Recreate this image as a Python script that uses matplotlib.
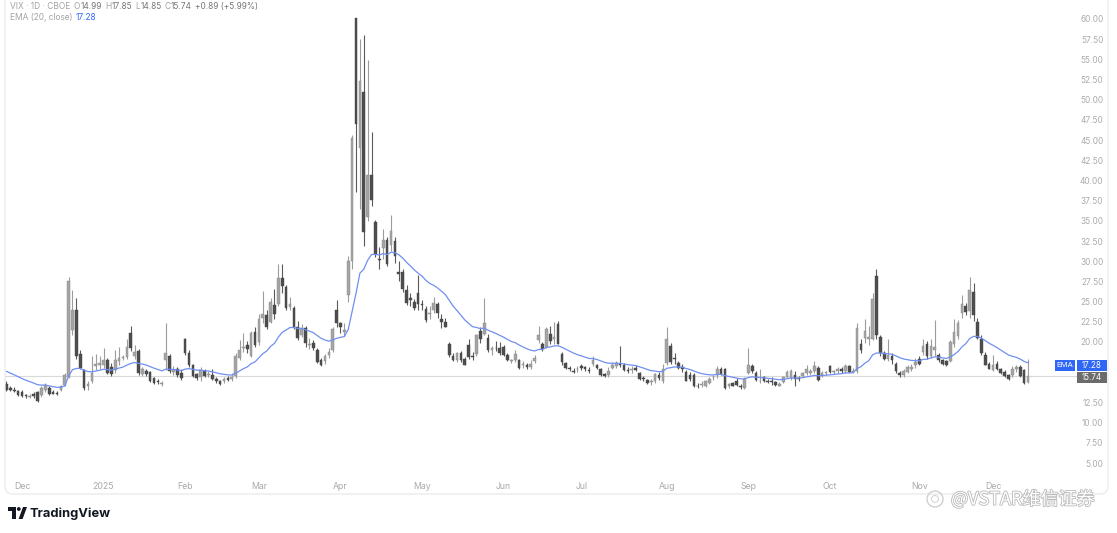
import numpy as np
import pandas as pd
import matplotlib
matplotlib.use("Agg")
import matplotlib.pyplot as plt
from matplotlib.patches import FancyBboxPatch, Rectangle, Polygon, Circle
import matplotlib.patheffects as pe

plt.rcParams['font.family'] = ['Inter', 'DejaVu Sans']

# ---------------- data: daily VIX candles (open, high, low, close) ----------------
nov_2024 = [(14.8, 15.1, 13.9, 14.0), (14.3, 14.6, 13.9, 14.1), (14.1, 14.4, 13.8, 13.9),
            (13.95, 14.1, 13.3, 13.45)]
dec_2024 = [(13.8, 14.0, 13.2, 13.3), (13.4, 13.6, 13.1, 13.3), (13.2, 13.5, 13.0, 13.35),
            (13.6, 13.8, 13.1, 13.3), (13.8, 13.9, 12.5, 12.7), (13.4, 14.5, 13.2, 14.25),
            (14.0, 14.9, 13.8, 14.7), (14.3, 14.5, 13.4, 13.55), (13.8, 14.0, 13.5, 13.6),
            (13.7, 13.9, 13.4, 13.55), (14.1, 14.7, 13.9, 14.55), (14.7, 16.1, 14.5, 15.9),
            (15.7, 28.1, 15.5, 27.55), (21.5, 26.4, 20.8, 24.0), (24.0, 25.5, 17.9, 18.2),
            (18.5, 19.0, 16.6, 16.8), (16.5, 16.6, 14.1, 14.3), (14.6, 15.2, 14.1, 14.75),
            (15.1, 18.2, 14.9, 16.1), (17.0, 18.5, 16.5, 17.3), (17.2, 18.3, 16.6, 17.35)]
jan_2025 = [(17.2, 19.3, 16.8, 17.8), (17.8, 18.0, 16.0, 16.1), (16.9, 17.4, 15.8, 16.0),
            (16.5, 19.0, 16.2, 17.8), (17.6, 19.4, 17.2, 17.95), (18.0, 18.4, 17.8, 18.1),
            (18.1, 20.3, 17.9, 19.4), (21.1, 22.0, 18.9, 19.2), (18.3, 19.6, 17.9, 18.7),
            (18.9, 19.1, 15.9, 16.1), (16.0, 16.9, 15.8, 16.6), (16.4, 16.6, 15.8, 15.97),
            (16.3, 16.4, 15.0, 15.1), (15.5, 15.6, 14.8, 14.9), (15.2, 15.4, 14.8, 15.0),
            (14.8, 15.1, 14.6, 14.85), (17.8, 22.4, 16.5, 18.6), (18.2, 18.5, 16.2, 16.4),
            (16.3, 17.0, 15.9, 16.5), (16.6, 16.9, 15.7, 15.9), (16.1, 16.6, 15.3, 15.5)]
feb_2025 = [(20.3, 20.5, 18.4, 18.6), (18.6, 19.0, 16.9, 17.2), (17.1, 17.3, 15.6, 15.8),
            (16.0, 16.1, 15.3, 15.5), (15.7, 16.9, 15.1, 16.5), (16.4, 16.6, 15.6, 15.8),
            (15.9, 16.4, 15.6, 16.0), (15.9, 16.6, 15.3, 15.4), (15.4, 15.6, 14.9, 15.1),
            (15.1, 15.3, 14.7, 14.8), (15.2, 15.6, 14.9, 15.35), (15.5, 15.8, 15.1, 15.3),
            (15.4, 16.1, 15.2, 15.7), (15.8, 18.6, 15.5, 18.2), (18.0, 20.2, 17.8, 19.0),
            (19.2, 21.1, 18.7, 19.4), (19.6, 20.1, 18.6, 19.1), (18.3, 21.4, 18.1, 21.1),
            (21.2, 21.9, 19.4, 19.6)]
mar_2025 = [(20.0, 23.5, 19.6, 22.8), (23.0, 26.3, 22.3, 23.5), (23.3, 24.0, 21.6, 21.9),
            (22.5, 25.5, 22.3, 24.9), (24.6, 26.6, 22.8, 23.4), (24.7, 29.6, 24.5, 27.9),
            (27.9, 29.6, 26.0, 26.9), (26.8, 27.0, 24.0, 24.2), (24.3, 25.6, 23.9, 24.7),
            (24.2, 24.4, 21.6, 21.8), (21.9, 22.6, 20.2, 20.5), (20.9, 22.2, 20.6, 21.7),
            (21.7, 22.0, 19.4, 19.9), (19.6, 20.5, 19.1, 19.8), (19.9, 20.2, 19.0, 19.3),
            (19.0, 19.2, 17.4, 17.5), (17.8, 18.0, 17.0, 17.15), (17.6, 18.5, 17.3, 18.3),
            (18.4, 19.3, 18.0, 18.7), (19.0, 21.9, 18.8, 21.65), (24.0, 25.2, 21.8, 22.3)]
apr_2025 = [(22.3, 22.5, 21.1, 21.8), (21.2, 22.4, 20.7, 21.5), (25.8, 30.6, 25.0, 30.0),
            (30.0, 45.6, 29.0, 45.3), (60.1, 60.13, 38.6, 47.0), (44.0, 57.5, 36.5, 52.3),
            (51.0, 58.0, 31.9, 33.6), (35.5, 54.9, 35.0, 40.7), (40.7, 46.0, 36.8, 37.6),
            (34.9, 35.1, 30.5, 30.9), (30.3, 31.8, 29.0, 30.1), (31.6, 34.0, 30.3, 32.6),
            (32.6, 33.0, 29.4, 29.65), (32.0, 35.7, 31.3, 33.8), (32.5, 33.0, 29.8, 30.6),
            (28.6, 30.0, 27.5, 28.45), (28.7, 29.0, 26.2, 26.5), (26.4, 27.0, 24.6, 24.8),
            (25.4, 26.0, 24.5, 25.15), (25.0, 25.3, 23.9, 24.2), (26.0, 28.3, 24.0, 24.7)]
may_2025 = [(24.7, 25.2, 24.0, 24.6), (24.1, 24.5, 22.5, 22.7), (23.5, 24.5, 22.9, 23.6),
            (24.0, 25.6, 23.6, 24.8), (24.7, 25.0, 23.0, 23.55), (22.8, 23.5, 21.7, 22.5),
            (22.5, 23.0, 21.8, 21.9), (19.8, 20.0, 18.1, 18.4), (18.3, 18.6, 17.6, 17.7),
            (17.7, 18.8, 17.5, 18.6), (18.6, 18.9, 17.5, 17.8), (17.9, 18.1, 17.1, 17.2),
            (19.6, 20.3, 17.9, 18.1), (18.3, 18.7, 17.8, 18.1), (18.5, 21.0, 18.2, 20.9),
            (21.4, 21.9, 19.9, 20.3), (21.0, 25.4, 20.9, 22.3), (20.5, 21.0, 18.8, 18.96),
            (19.0, 19.5, 18.4, 19.3), (19.3, 20.1, 18.9, 19.2), (19.3, 20.0, 18.4, 18.6)]
jun_2025 = [(19.4, 19.6, 18.2, 18.4), (18.4, 18.6, 17.6, 17.7), (17.6, 17.9, 17.4, 17.6),
            (17.7, 19.0, 17.5, 18.5), (17.8, 17.9, 16.7, 16.8), (17.2, 17.6, 16.8, 17.2),
            (17.2, 17.4, 16.7, 16.95), (16.9, 17.8, 16.7, 17.3), (17.6, 18.4, 17.4, 18.0),
            (20.2, 22.0, 19.9, 20.8), (19.8, 20.0, 18.9, 19.1), (19.4, 21.8, 19.2, 21.6),
            (21.0, 22.0, 19.8, 20.1), (20.3, 22.5, 19.8, 20.6), (22.2, 22.6, 19.7, 19.8),
            (18.5, 18.7, 17.2, 17.5), (17.4, 17.5, 16.7, 16.8), (16.8, 17.0, 16.4, 16.6),
            (16.4, 16.8, 16.1, 16.3), (16.6, 17.0, 16.3, 16.7)]
jul_2025 = [(17.0, 17.3, 16.5, 16.8), (16.9, 17.0, 16.4, 16.6), (16.5, 16.9, 16.2, 16.4),
            (17.3, 18.2, 17.0, 17.8), (17.1, 17.3, 16.6, 16.8), (16.7, 16.8, 15.8, 15.9),
            (16.0, 16.2, 15.6, 15.8), (15.9, 16.9, 15.7, 16.4), (16.8, 17.5, 16.6, 17.2),
            (17.0, 17.6, 16.8, 17.4), (17.3, 19.5, 16.9, 17.2), (17.2, 17.4, 16.4, 16.5),
            (16.5, 16.9, 16.2, 16.4), (16.5, 17.0, 16.2, 16.65), (16.8, 17.1, 16.4, 16.5),
            (16.2, 16.3, 15.3, 15.4), (15.5, 15.8, 15.1, 15.4), (15.3, 15.4, 14.8, 14.9),
            (15.0, 15.4, 14.7, 15.0), (15.1, 16.2, 14.9, 16.0), (15.9, 16.3, 15.3, 15.5),
            (15.1, 17.3, 14.9, 16.7)]
aug_2025 = [(17.4, 21.9, 17.2, 20.4), (19.5, 19.9, 17.3, 17.5), (18.0, 18.6, 17.3, 17.85),
            (17.4, 17.6, 16.6, 16.8), (16.9, 17.3, 16.3, 16.6), (16.3, 16.5, 15.1, 15.15),
            (15.9, 16.3, 15.2, 15.4), (15.9, 16.1, 14.4, 14.6), (14.6, 14.9, 14.3, 14.5),
            (14.7, 15.2, 14.4, 14.8), (14.5, 15.3, 14.4, 15.1), (14.9, 15.6, 14.8, 15.4),
            (15.6, 15.9, 15.3, 15.7), (15.9, 17.0, 15.5, 16.7), (16.7, 16.9, 15.9, 16.0),
            (16.7, 16.8, 14.2, 14.3), (14.6, 14.9, 14.3, 14.8), (14.9, 15.0, 14.5, 14.6),
            (15.2, 15.5, 14.5, 14.7), (14.6, 14.8, 14.2, 14.4), (14.3, 15.6, 14.2, 15.4)]
sep_2025 = [(16.2, 19.2, 16.0, 17.2), (17.0, 17.3, 16.2, 16.4), (16.2, 16.4, 15.2, 15.3),
            (15.1, 16.6, 14.9, 15.2), (15.6, 15.8, 15.0, 15.1), (15.2, 15.4, 14.9, 15.0),
            (15.1, 15.6, 14.7, 15.0), (15.0, 15.2, 14.6, 14.7), (14.6, 15.0, 14.5, 14.8),
            (15.0, 15.8, 14.9, 15.7), (15.7, 16.5, 15.5, 16.3), (15.5, 16.7, 15.3, 16.4),
            (15.9, 16.4, 14.5, 15.4), (15.5, 15.8, 15.2, 15.45), (15.8, 16.3, 15.6, 16.1),
            (16.1, 17.2, 15.9, 16.6), (16.2, 16.6, 15.9, 16.4), (16.4, 17.6, 16.2, 17.0),
            (16.8, 17.0, 15.2, 15.3), (15.9, 16.4, 15.7, 16.1), (16.2, 16.4, 15.9, 16.3)]
oct_2025 = [(17.0, 17.2, 16.2, 16.3), (16.3, 16.5, 16.0, 16.4), (16.4, 16.9, 16.1, 16.65),
            (16.6, 16.9, 16.2, 16.4), (16.4, 17.3, 16.1, 17.0), (17.0, 17.2, 16.2, 16.3),
            (16.3, 16.8, 16.1, 16.4), (16.4, 22.4, 16.2, 21.7), (19.8, 20.3, 18.6, 19.0),
            (20.5, 22.9, 19.9, 21.4), (20.3, 22.0, 19.6, 20.6), (20.4, 26.0, 20.2, 25.3),
            (28.2, 29.0, 20.4, 20.8), (20.6, 20.8, 18.3, 18.6), (18.6, 18.9, 17.7, 17.9),
            (17.9, 20.4, 17.6, 18.4), (18.2, 18.6, 17.3, 17.8), (17.3, 17.5, 16.2, 16.4),
            (16.2, 16.4, 15.6, 15.9), (15.9, 16.6, 15.7, 16.4), (16.3, 17.2, 16.1, 16.9),
            (16.7, 17.3, 16.4, 16.9), (17.1, 18.0, 16.8, 17.5)]
nov_2025 = [(17.9, 18.2, 17.1, 17.3), (18.7, 20.4, 18.4, 19.5), (19.8, 20.1, 17.9, 18.2),
            (18.2, 20.3, 18.0, 19.5), (19.0, 22.7, 18.3, 19.4), (18.4, 18.6, 17.5, 17.7),
            (17.8, 17.9, 17.2, 17.3), (17.6, 17.8, 17.0, 17.2), (17.6, 20.2, 17.5, 20.0),
            (19.7, 22.9, 19.4, 21.2), (20.7, 22.7, 20.4, 22.4), (23.6, 25.8, 23.0, 24.7),
            (24.4, 24.8, 23.3, 23.7), (23.8, 28.1, 23.0, 26.4), (26.2, 27.3, 22.6, 23.3),
            (22.5, 23.0, 20.3, 20.5), (20.4, 20.8, 18.4, 18.6), (18.4, 18.7, 17.1, 17.2),
            (17.3, 17.5, 16.6, 16.7)]
dec_2025 = [(16.5, 18.4, 16.4, 17.2), (17.3, 17.6, 16.5, 16.6), (16.6, 16.8, 16.0, 16.1),
            (16.3, 16.5, 15.7, 15.8), (15.9, 16.0, 15.3, 15.4), (15.9, 17.0, 15.7, 16.7),
            (16.6, 17.2, 16.3, 16.9), (16.9, 17.2, 15.7, 15.8), (16.5, 16.6, 14.8, 14.85),
            (14.99, 17.85, 14.85, 15.74)]

market_holidays = ['2024-11-28', '2024-12-25', '2025-01-01', '2025-01-20', '2025-02-17',
                   '2025-04-18', '2025-05-26', '2025-06-19', '2025-07-04', '2025-09-01',
                   '2025-11-27']
month_labels = ['Dec', '2025', 'Feb', 'Mar', 'Apr', 'May', 'Jun', 'Jul', 'Aug', 'Sep',
                'Oct', 'Nov', 'Dec']
price_ticks = [v for v in np.arange(5.0, 60.01, 2.5) if v not in (15.0, 17.5)]
ema_period = 20
ema_seed = 16.6          # EMA level at the left edge of the window
ema_shown = 17.28        # value printed in the legend / price-scale tag

# ---------------- assemble ----------------
months = [nov_2024, dec_2024, jan_2025, feb_2025, mar_2025, apr_2025, may_2025,
          jun_2025, jul_2025, aug_2025, sep_2025, oct_2025, nov_2025, dec_2025]
bars = np.array([b for m in months for b in m], dtype=float)
o, h, l, c = bars.T
dates = pd.bdate_range('2024-11-25', '2025-12-12')
dates = dates[~dates.isin(pd.to_datetime(market_holidays))]
assert len(dates) == len(bars), (len(dates), len(bars))
n = len(bars)
x = np.arange(n)

alpha = 2.0 / (ema_period + 1)
ema = []
e = ema_seed
for v in c:
    e = alpha * v + (1 - alpha) * e
    ema.append(e)
ema = np.array(ema)

# month tick positions: first trading day of each month
per = dates.to_period('M')
first_idx = [i for i in range(n) if i == 0 or per[i] != per[i - 1]]
first_idx = [i for i in first_idx if dates[i].day <= 5]

# ---------------- figure ----------------
W, H = 1117, 533
fig = plt.figure(figsize=(W / 100, H / 100), dpi=100)
fig.patch.set_facecolor('white')

ax_left, ax_right, ax_top, ax_bot = 5, 1045, 0, 478
ax = fig.add_axes([ax_left / W, (H - ax_bot) / H, (ax_right - ax_left) / W, (ax_bot - ax_top) / H])
ax.set_facecolor('none')
px_per_bar = 3.884
x0_px = 6.46
ax.set_xlim((ax_left - x0_px) / px_per_bar, (ax_right - x0_px) / px_per_bar)
px_per_unit = 8.073
ax.set_ylim(60 - (ax_bot - 19) / px_per_unit, 60 + 19 / px_per_unit)

for s in ax.spines.values():
    s.set_visible(False)

up = c >= o
body_col = np.where(up, '#a5a5a5', '#4e4e4e')
edge_col = np.where(up, '#888888', '#444444')
wick_col = np.where(up, '#9c9c9c', '#5a5a5a')
ax.vlines(x, l, h, colors=wick_col, lw=0.8, zorder=2)
body_lo = np.minimum(o, c)
body_h = np.maximum(np.abs(c - o), 0.1)
ax.bar(x, body_h, bottom=body_lo, width=0.68, color=body_col, edgecolor=edge_col,
       linewidth=0.3, zorder=3)

ax.plot(x, ema, color='#6f8ff2', lw=0.9, zorder=4)

# last price line
ax.plot([ax.get_xlim()[0], (1077 - x0_px) / px_per_bar], [c[-1], c[-1]], color='#d9d9d9',
        lw=0.8, zorder=1, clip_on=False)

ax.set_xticks(first_idx)
ax.set_xticklabels(month_labels[:len(first_idx)])
ax.tick_params(axis='x', length=0, pad=3, labelsize=6.3, labelcolor='#a9a9a9')
ax.yaxis.tick_right()
ax.set_yticks(price_ticks)
ax.set_yticklabels([f'{v:.2f}' for v in price_ticks])
ax.tick_params(axis='y', length=0, pad=42, labelsize=6.0, labelcolor='#ababab')
for t in ax.get_yticklabels():
    t.set_horizontalalignment('right')

# ---------------- overlay (pixel coords) ----------------
ov = fig.add_axes([0, 0, 1, 1], zorder=10)
ov.set_xlim(0, W)
ov.set_ylim(H, 0)
ov.axis('off')
ov.set_facecolor('none')

frame = FancyBboxPatch((5, -20), 1103, 514, boxstyle='round,pad=0,rounding_size=8',
                       fc='none', ec='#ececec', lw=1.0)
ov.add_patch(frame)


def ypix(v):
    return H - ax.transData.transform((0, v))[1]


# price scale tags
ye = ypix(ema_shown) + 1.5
yc = ypix(c[-1]) + 1.2
ov.add_patch(Rectangle((1055, ye - 5.3), 20, 10.6, fc='#2f66f5', ec='none'))
ov.add_patch(Rectangle((1077, ye - 5.3), 30, 10.6, fc='#2f66f5', ec='none'))
ov.add_patch(Rectangle((1077, yc - 5.3), 30, 10.6, fc='#6b6b6b', ec='none'))
ov.text(1065, ye, 'EMA', color='white', fontsize=5.6, ha='center', va='center')
ov.text(1092, ye, f'{ema_shown:.2f}', color='white', fontsize=5.8, ha='center', va='center')
ov.text(1092, yc, f'{c[-1]:.2f}', color='white', fontsize=5.8, ha='center', va='center')

# header legend
renderer = fig.canvas.get_renderer()
chg = c[-1] - c[-2]
pct = chg / c[-2] * 100
light, dark = '#a3a3a3', '#777777'
line1 = [('VIX · 1D · CBOE', light, 3.5), ('O', light, 0), (f'{o[-1]:.2f}', dark, 3.5),
         ('H', light, 0), (f'{h[-1]:.2f}', dark, 3.5), ('L', light, 0), (f'{l[-1]:.2f}', dark, 3.5),
         ('C', light, 0), (f'{c[-1]:.2f}', dark, 3.5), (f'{chg:+.2f} ({pct:+.2f}%)', dark, 0)]
xx = 10
for txt, col, gap in line1:
    t = ov.text(xx, 6.5, txt, color=col, fontsize=6.0, ha='left', va='center')
    xx += t.get_window_extent(renderer).width + gap
xx = 10
for txt, col, gap in [('EMA (20, close)', light, 3.5), (f'{ema_shown:.2f}', '#2f66f5', 0)]:
    t = ov.text(xx, 18, txt, color=col, fontsize=6.0, ha='left', va='center')
    xx += t.get_window_extent(renderer).width + gap

# TradingView logo
logo = '#131722'
ov.add_patch(Rectangle((8, 507), 8, 3.6, fc=logo, ec='none'))
ov.add_patch(Rectangle((12.4, 507), 3.6, 12, fc=logo, ec='none'))
ov.add_patch(Circle((18.8, 509.0), 1.9, fc=logo, ec='none'))
ov.add_patch(Polygon([(18.6, 519), (22.6, 519), (27.0, 507), (23.0, 507)], closed=True,
                     fc=logo, ec='none'))
ov.text(30, 513.5, 'TradingView', color=logo, fontsize=9.3, fontweight='bold',
        ha='left', va='center')

# watermark
ov.add_patch(Circle((935, 499), 8, fc='none', ec='#cfcfcf', lw=1.0))
ov.add_patch(Circle((935, 499), 3.5, fc='none', ec='#d7d7d7', lw=0.8))
ov.text(951, 499.5, '@VSTAR维信证券', color='white', fontsize=13,
        family=['Noto Sans CJK SC', 'DejaVu Sans'], ha='left', va='center',
        path_effects=[pe.withStroke(linewidth=1.2, foreground='#b9b9b9')])

fig.savefig('out.png', dpi=100, facecolor='white')
